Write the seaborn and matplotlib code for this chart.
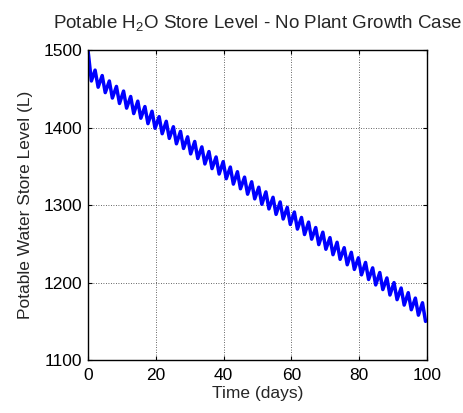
import numpy as np
import pandas as pd
import matplotlib
matplotlib.use("Agg")
import matplotlib.pyplot as plt
import seaborn as sns

# turning points of the store level
peak_days = [0.0, 2.1, 4.2, 6.3, 8.4, 10.5, 12.6, 14.7, 16.8, 18.9, 21.0, 23.1,
             25.2, 27.3, 29.4, 31.5, 33.6, 35.7, 37.8, 39.9, 42.0, 44.1, 46.2, 48.3,
             50.4, 52.5, 54.6, 56.7, 58.8, 60.9, 63.0, 65.1, 67.2, 69.3, 71.4, 73.5,
             75.6, 77.7, 79.8, 81.9, 84.0, 86.1, 88.2, 90.3, 92.4, 94.5, 96.6, 98.7]
peak_levels = [1500, 1474, 1467, 1460, 1453, 1447, 1440, 1434, 1427, 1421, 1414, 1408,
               1401, 1395, 1388, 1382, 1375, 1369, 1362, 1356, 1349, 1343, 1336, 1330,
               1323, 1317, 1310, 1304, 1297, 1291, 1284, 1278, 1271, 1265, 1258, 1252,
               1245, 1239, 1232, 1226, 1219, 1213, 1206, 1200, 1193, 1187, 1180, 1174]
trough_days = [1.0, 3.0, 5.1, 7.2, 9.3, 11.4, 13.5, 15.6, 17.7, 19.8, 21.9, 24.0,
               26.1, 28.2, 30.3, 32.4, 34.5, 36.6, 38.7, 40.8, 42.9, 45.0, 47.1, 49.2,
               51.3, 53.4, 55.5, 57.6, 59.7, 61.8, 63.9, 66.0, 68.1, 70.2, 72.3, 74.4,
               76.5, 78.6, 80.7, 82.8, 84.9, 87.0, 89.1, 91.2, 93.3, 95.4, 97.5, 99.6]
trough_levels = [1460, 1452, 1445, 1438, 1431, 1425, 1418, 1412, 1405, 1399, 1392, 1386,
                 1379, 1373, 1366, 1360, 1353, 1347, 1340, 1334, 1327, 1321, 1314, 1308,
                 1301, 1295, 1288, 1282, 1275, 1269, 1262, 1256, 1249, 1243, 1236, 1230,
                 1223, 1217, 1210, 1204, 1197, 1191, 1184, 1178, 1171, 1165, 1158, 1150]

x_ticks = [0, 20, 40, 60, 80, 100]
y_ticks = [1100, 1200, 1300, 1400, 1500]

sns.set_style("white")
plt.rcParams['font.family'] = ['Liberation Sans', 'DejaVu Sans']
plt.rcParams['mathtext.fontset'] = 'custom'
plt.rcParams['mathtext.rm'] = 'Liberation Sans'

df = pd.DataFrame({
    "day": peak_days + trough_days,
    "level": peak_levels + trough_levels,
}).sort_values("day")

fig = plt.figure(figsize=(4.63, 4.13), dpi=100)
ax = fig.add_axes([0.190, 0.128, 0.732, 0.751])

sns.lineplot(data=df, x="day", y="level", ax=ax, color=(0, 0, 1),
             linewidth=2.5, estimator=None, sort=False)

ax.set_xlim(0, 100)
ax.set_ylim(1100, 1500)
ax.set_xticks(x_ticks)
ax.set_yticks(y_ticks)
ax.tick_params(direction="in", length=3, width=0.8, labelsize=12.5,
               top=True, right=True, left=True, bottom=True, colors="black")
ax.tick_params(axis="x", pad=6)
ax.tick_params(axis="y", pad=4)
ax.grid(True, linestyle=(0, (1, 2)), color="#333333", linewidth=0.6)
for s in ax.spines.values():
    s.set_color("black")
    s.set_linewidth(1.0)

ax.set_xlabel("Time (days)", fontsize=12.5, labelpad=2)
ax.set_ylabel("Potable Water Store Level (L)", fontsize=12.5, labelpad=8)
ax.set_title("Potable H$_2$O Store Level - No Plant Growth Case", fontsize=13.5, pad=15)

fig.savefig("out.png", dpi=100)
